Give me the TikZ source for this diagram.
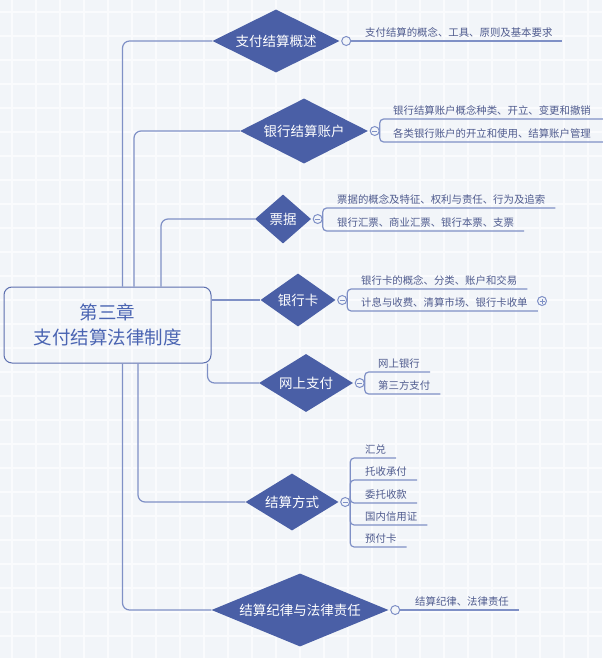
\documentclass[tikz,border=0pt]{standalone}
\usepackage{fontspec}
\setmainfont{Noto Sans CJK SC}
\usetikzlibrary{shapes.geometric, positioning}

\definecolor{mapblue}{HTML}{4A5FA6}
\definecolor{linkblue}{HTML}{7F90C6}
\definecolor{leaftext}{HTML}{4F5B8E}
\definecolor{roottext}{HTML}{4A64B2}
\definecolor{rootline}{HTML}{5C6FAF}
\definecolor{paper}{HTML}{F2F5F9}
\definecolor{tileline}{HTML}{FAFBFD}

\begin{document}
\begin{tikzpicture}[x=1pt, y=-1pt,
  rootbox/.style={draw=rootline, line width=1pt, rounded corners=8pt, minimum width=207pt, minimum height=76pt, align=center, text=roottext, font=\fontsize{18.5}{25}\selectfont},
  topic/.style={diamond, fill=mapblue, text=white, inner sep=0pt, font=\fontsize{13.5}{16}\selectfont},
  fold/.style={circle, draw=linkblue, fill=paper, line width=1pt, minimum size=9pt, inner sep=0pt},
  minus/.style={fold, path picture={\draw[linkblue, line width=0.9pt] ([xshift=-2.5pt]path picture bounding box.center) -- ([xshift=2.5pt]path picture bounding box.center);}},
  plus/.style={fold, path picture={\draw[linkblue, line width=0.9pt] ([xshift=-2.5pt]path picture bounding box.center) -- ([xshift=2.5pt]path picture bounding box.center) ([yshift=-2.5pt]path picture bounding box.center) -- ([yshift=2.5pt]path picture bounding box.center);}},
  leaf/.style={anchor=south west, inner xsep=0pt, inner ysep=3pt, text=leaftext, font=\fontsize{10.4}{12}\selectfont},
  link/.style={draw=linkblue, line width=1.2pt, rounded corners=7pt},
  twig/.style={draw=linkblue, line width=1.2pt, rounded corners=4pt}
]
\useasboundingbox (0,0) rectangle (602,658);

% paper
\begin{scope}
\clip (0,0) rectangle (602,658);
\fill[paper] (0,0) rectangle (602,658);
\draw[tileline, line width=1.2pt, shift={(12,12)}] (-24,-24) grid[step=24pt] (600,660);
\end{scope}

% ROOT
\node[rootbox] (root) at (107.5,325) {第三章\\支付结算法律制度};

% TOPICS
\node[topic, aspect=2.02, minimum width=127pt, minimum height=63pt] (d1) at (276,41) {支付结算概述};
\node[topic, aspect=1.97, minimum width=128pt, minimum height=65pt] (d2) at (304,131) {银行结算账户};
\node[topic, aspect=1.14, minimum width=56pt, minimum height=49pt] (d3) at (283,219) {票据};
\node[topic, aspect=1.42, minimum width=75pt, minimum height=53pt] (d4) at (298,300) {银行卡};
\node[topic, aspect=1.62, minimum width=94pt, minimum height=58pt] (d5) at (306,383) {网上支付};
\node[topic, aspect=1.63, minimum width=93pt, minimum height=57pt] (d6) at (292,502) {结算方式};
\node[topic, aspect=2.42, minimum width=177pt, minimum height=73pt] (d7) at (300,610) {结算纪律与法律责任};

\draw[link] ([xshift=15pt]root.north) |- (d1.west);
\draw[link] ([xshift=26.5pt]root.north) |- (d2.west);
\draw[link] ([xshift=53.5pt]root.north) |- (d3.west);
\draw[link] (root.east |- d4.west) -- (d4.west);
\draw[link] ([xshift=100pt]root.south) |- (d5.west);
\draw[link] ([xshift=30.5pt]root.south) |- (d6.west);
\draw[link] ([xshift=15pt]root.south) |- (d7.west);

% fold markers
\node[fold, right=1.5pt of d1] (f1) {};
\node[minus, right=1.5pt of d2] (f2) {};
\node[minus, right=1.5pt of d3] (f3) {};
\node[minus, right=1.5pt of d4] (f4) {};
\node[minus, right=1.5pt of d5] (f5) {};
\node[minus, right=1.5pt of d6] (f6) {};
\node[fold, right=1.5pt of d7] (f7) {};

% LEAVES
\node[leaf] (l1) at (365,41) {支付结算的概念、工具、原则及基本要求};
\draw[twig] (f1.east) -- ([xshift=9pt]l1.south east);

\node[leaf] (l21) at (393,119) {银行结算账户概念种类、开立、变更和撤销};
\node[leaf] (l22) at (393,142) {各类银行账户的开立和使用、结算账户管理};
\draw[twig] (f2.east) |- ([xshift=12pt]l21.south east);
\draw[twig] (f2.east) |- ([xshift=12pt]l22.south east);

\node[leaf] (l31) at (337,208) {票据的概念及特征、权利与责任、行为及追索};
\node[leaf] (l32) at (337,231) {银行汇票、商业汇票、银行本票、支票};
\draw[twig] (f3.east) |- ([xshift=10pt]l31.south east);
\draw[twig] (f3.east) |- ([xshift=10pt]l32.south east);

\node[leaf] (l41) at (361,289) {银行卡的概念、分类、账户和交易};
\node[leaf] (l42) at (361,311) {计息与收费、清算市场、银行卡收单};
\draw[twig] (f4.east) |- ([xshift=10pt]l41.south east);
\draw[twig] (f4.east) |- ([xshift=10pt]l42.south east);
\node[plus] (more) at (542,301) {};

\node[leaf] (l51) at (378,372) {网上银行};
\node[leaf] (l52) at (378,394) {第三方支付};
\draw[twig] (f5.east) |- ([xshift=10pt]l51.south east);
\draw[twig] (f5.east) |- ([xshift=10pt]l52.south east);

\node[leaf] (l61) at (365,458) {汇兑};
\node[leaf] (l62) at (365,480) {托收承付};
\node[leaf] (l63) at (365,503) {委托收款};
\node[leaf] (l64) at (365,525) {国内信用证};
\node[leaf] (l65) at (365,547) {预付卡};
\foreach \n in {61,62,63,64,65}
  \draw[twig] (f6.east) |- ([xshift=10pt]l\n.south east);

\node[leaf] (l7) at (415,610) {结算纪律、法律责任};
\draw[twig] (f7.east) -- ([xshift=10pt]l7.south east);

\end{tikzpicture}
\end{document}
